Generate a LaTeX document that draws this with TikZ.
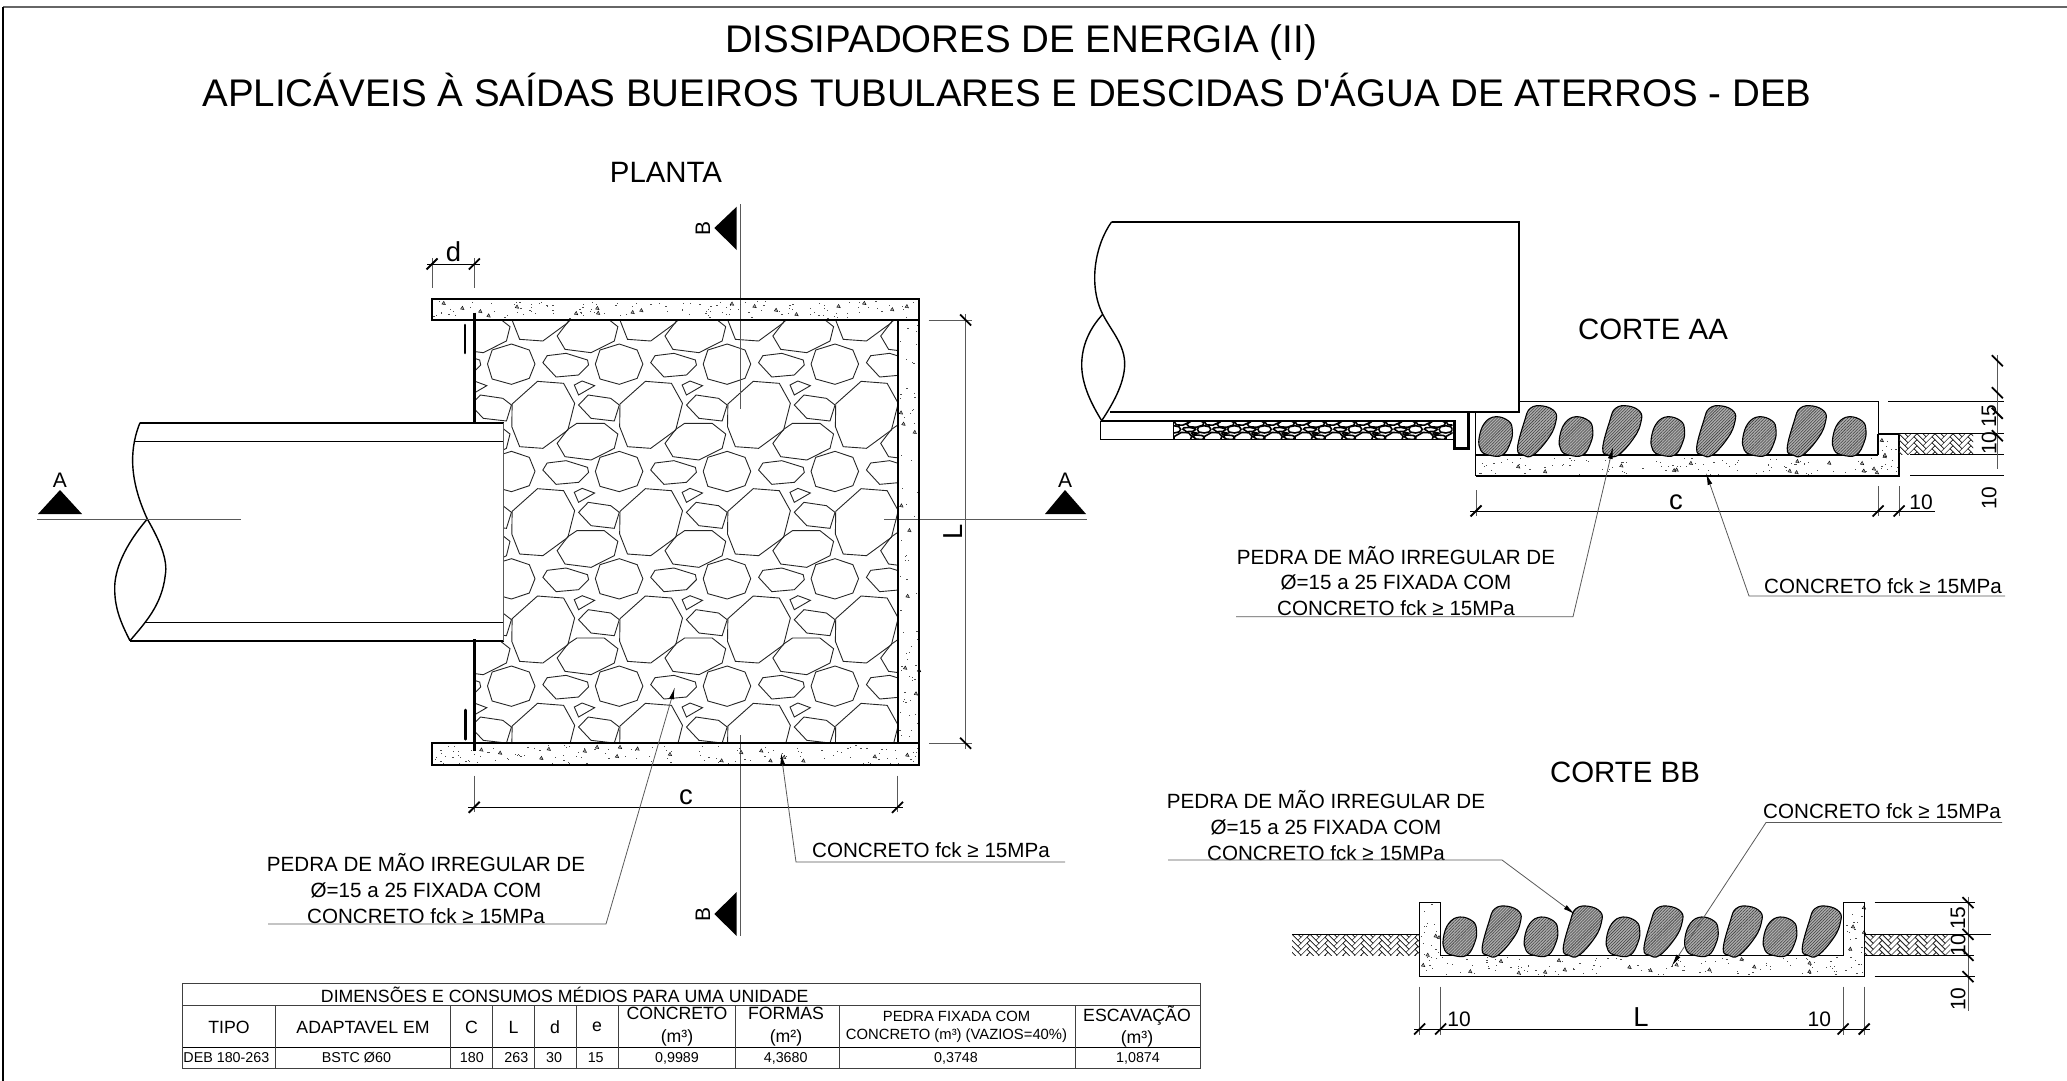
\documentclass[tikz,border=0pt]{standalone}
\usepackage{fontspec}
\setmainfont{Liberation Sans}
\newfontfamily\plainsans{Liberation Sans}
\usetikzlibrary{arrows.meta,patterns.meta}
\definecolor{dimgr}{gray}{0.35}
\definecolor{stonegr}{gray}{0.68}
\tikzset{
  thickl/.style={line width=1pt,black},
  medl/.style={line width=.7pt,black},
  thinl/.style={line width=.4pt,dimgr},
  stonel/.style={line width=.45pt,black!85},
  tickl/.style={line width=.9pt,black},
  leader/.style={line width=.4pt,dimgr,-{Latex[length=6pt,width=2.4pt,black]}},
  note/.style={font=\fontsize{10.3}{12.85}\selectfont,inner sep=0pt,align=center},
  heading/.style={font=\plainsans\fontsize{19.25}{23}\selectfont,inner sep=0pt},
  viewname/.style={font=\fontsize{14.7}{18}\selectfont,inner sep=0pt},
  dimbig/.style={font=\fontsize{13.7}{16}\selectfont,inner sep=0pt},
  dimsmall/.style={font=\fontsize{10.5}{12}\selectfont,inner sep=0pt},
  cuttext/.style={font=\fontsize{10.5}{12}\selectfont,inner sep=0pt},
  thead/.style={font=\fontsize{8.85}{11.2}\selectfont,inner sep=0pt,align=center},
  tsmall/.style={font=\fontsize{7.4}{9}\selectfont,inner sep=0pt,align=center},
  tdata/.style={font=\fontsize{7.15}{9}\selectfont,inner sep=0pt},
  rock/.style={line width=.55pt,black,preaction={fill=stonegr},
    pattern={Lines[angle=45,distance=1.05pt,line width=.28pt]},pattern color=black!75}
}
\newcommand{\stonetile}{%
  \draw (314,492)--(385,424)--(458,430)--(489,490)--(470,570)--(400,625)--(335,620)--(313,560)--cycle;
  \draw (440,610)--(470,568)--(495,550)--(572,550)--(610,582)--(600,625)--(535,660)--(462,650)--cycle;
  \draw (245,372)--(258,330)--(312,312)--(362,330)--(378,372)--(362,415)--(312,433)--(258,417)--cycle;
  \draw (400,368)--(412,347)--(465,340)--(525,360)--(528,375)--(500,405)--(437,411)--cycle;
  \draw (488,435)--(510,423)--(545,437)--(500,465)--cycle;
  \draw (500,495)--(527,465)--(590,475)--(614,495)--(600,543)--(535,535)--cycle;
}
\newcommand{\tickf}[2]{\draw[tickl] (#1-5.5,#2+5.5)--(#1+5.5,#2-5.5);}
\newcommand{\tickb}[2]{\draw[tickl] (#1-5.5,#2-5.5)--(#1+5.5,#2+5.5);}
\newcommand{\speckle}[7]{%
  \pgfmathsetseed{#7}
  \foreach \n in {1,...,#5}{
    \pgfmathsetmacro\sx{#1+rnd*(#3-#1)}
    \pgfmathsetmacro\sy{#2+rnd*(#4-#2)}
    \fill[black!70] (\sx,\sy) rectangle ++(1.2,.8);
  }
  \foreach \n in {1,...,#6}{
    \pgfmathsetmacro\sx{#1+rnd*(#3-#1)}
    \pgfmathsetmacro\sy{#2+3+rnd*(#4-#2-3)}
    \filldraw[line width=.2pt,draw=black,fill=black!35] (\sx,\sy)--++(3.5,.6)--++(-1.6,-3.4)--cycle;
  }
}
\newcommand{\soilhatch}[6]{%
  \begin{scope}
    \clip (#1,#2) rectangle (#3,#4);
    \begin{scope}[shift={(#1,#2)},x=1.5pt,y=-1.5pt,line width=.3pt,black!85]
      \foreach \i in {-1,...,#5}{\foreach \j in {-4,...,#6}{
        \draw[shift={(\i*6,\j*2)}] (0,0)--(3,3)--(2,4)--(-1,1)--cycle (5,1)--(6,2)--(3,5)--(2,4);
      }}
    \end{scope}
  \end{scope}
}
\newcommand{\stoneS}[2]{\draw[rock,shift={(#1,#2)}] plot[smooth cycle,tension=.7] coordinates {(-7,0)(7,0)(15,-13)(16.7,-25)(13,-34)(0,-38.3)(-11,-32)(-16.5,-17)(-15,-5)};}
\newcommand{\stoneT}[2]{\draw[rock,shift={(#1,#2)}] plot[smooth cycle,tension=.7] coordinates {(-13.3,0)(-3,0)(13,-18)(19.5,-33.3)(18.5,-43.3)(6.7,-49)(-6,-46.7)(-12,-33.3)(-18.8,-6.7)};}
\begin{document}
\begin{tikzpicture}[x=.5pt,y=-.5pt]
\useasboundingbox (0,0) rectangle (2067,1081);
% frame
\draw[line width=.9pt,black!60] (3,7)--(2067,7);
\draw[line width=.7pt,black] (3,7)--(3,1081);
% titles
\node[heading] (title1) at (1021,43) {DISSIPADORES DE ENERGIA (II)};
\node[heading] (title2) at (1007,90) {APLICÁVEIS À SAÍDAS BUEIROS TUBULARES E DESCIDAS D'ÁGUA DE ATERROS - DEB};
\node[viewname] (planta) at (666,172) {PLANTA};
\node[viewname] (corteaa) at (1653,329) {CORTE AA};
\node[viewname] (cortebb) at (1625,772) {CORTE BB};

% ---------- PLANTA ----------
\begin{scope}
  \clip (474,320) rectangle (897.5,743.3);
  \begin{scope}[shift={(400,240)},x=.17857pt,y=-.16667pt,stonel]
    \foreach \i in {-1,...,3}{\foreach \j in {-1,...,3}{
      \begin{scope}[shift={(\i*302,\j*322)}]\stonetile\end{scope}
    }}
  \end{scope}
\end{scope}
% pipe
\fill[white] (140,422.7) rectangle (503.6,640.7);
\draw[thickl] (140,422.7)--(503.6,422.7);
\draw[medl] (134.3,441.3)--(503.6,441.3);
\draw[medl] (145,622.3)--(503.6,622.3);
\draw[thickl] (130,640.7)--(503.6,640.7);
\draw[thinl] (503.6,422.7)--(503.6,640.7);
\draw[medl] (140,422.7) .. controls (131,445) and (127,475) .. (147.3,519)
   .. controls (160,541) and (168,560) .. (165.3,575) .. controls (162,605) and (145,623) .. (130,640.7);
\draw[medl] (147.3,519) .. controls (125,545) and (114,570) .. (114.7,590) .. controls (115,610) and (122,625) .. (130,640.7);
% center lines
\draw[thinl] (37,519)--(240.7,519);
\draw[thinl] (884,519)--(1087,519);
\draw[thinl] (740,204)--(740,409);
\draw[thinl] (740,735)--(740,936);
% slabs
\speckle{433}{301}{918}{318}{130}{18}{11}
\speckle{899}{321}{918}{742}{60}{9}{12}
\speckle{433}{745}{918}{764}{130}{18}{13}
\draw[thickl] (432,299.3) rectangle (919.3,320);
\draw[thickl] (431.8,743.3) rectangle (919.3,765.3);
\draw[thickl] (919.3,320)--(919.3,743.3);
\draw[line width=.9pt,black] (897.8,320)--(897.8,743.3);
\draw[line width=1.3pt] (474.3,312.7)--(474.3,423.3);
\draw[line width=1.3pt] (474.3,639.3)--(474.3,750.7);
\draw[line width=1.3pt,line cap=round] (465,325)--(465,353);
\draw[line width=1.3pt,line cap=round] (465.4,710)--(465.4,739.3);
% d dim
\draw[thinl] (432,258)--(432,288) (474.3,258)--(474.3,288);
\draw[line width=.4pt,black] (427,264)--(480,264);
\tickf{432}{264}\tickf{474.3}{264}
\node[dimbig] (dlabel) at (453.6,252) {d};
% c dim
\draw[thinl] (474.2,775.7)--(474.2,812) (897.5,775.7)--(897.5,812);
\draw[line width=.4pt,black] (468,807.3)--(903,807.3);
\tickf{474.2}{807.3}\tickf{897.5}{807.3}
\node[dimbig] (cplan) at (686,797) {c};
% L dim
\draw[thinl] (928.6,320)--(972,320) (929,743.3)--(972,743.3);
\draw[thinl] (965.6,314)--(965.6,749);
\tickb{965.6}{320}\tickb{965.6}{743.3}
\node[dimbig,rotate=90] (lplan) at (953,532) {L};
% cut marks
\fill (38,514)--(82,514)--(60,490)--cycle;
\fill (1045,514)--(1086,514)--(1065,490)--cycle;
\node[cuttext] (cutAl) at (60,480) {A};
\node[cuttext] (cutAr) at (1065,480) {A};
\fill (736.7,206.7)--(736.7,250)--(714.3,228)--cycle;
\fill (736.7,892)--(736.7,936)--(714.3,914)--cycle;
\node[cuttext,rotate=90] (cutBt) at (703,228) {B};
\node[cuttext,rotate=90] (cutBb) at (703,914) {B};
% notes planta
\node[note] (nplanp) at (426,888.5) {PEDRA DE MÃO IRREGULAR DE\\Ø=15 a 25 FIXADA COM\\CONCRETO fck ≥ 15MPa};
\draw[leader] (268,924)--(606,924)--(674.8,687.3);
\node[note] (nplanc) at (931,850) {CONCRETO fck ≥ 15MPa};
\draw[leader] (1065,862)--(796,862)--(781,752.7);

% ---------- CORTE AA ----------
\draw[thickl] (1111.7,221.7)--(1518.7,221.7)--(1518.7,411.7)--(1110,411.7);
\draw[medl] (1111.7,221.7) .. controls (1095,245) and (1088,285) .. (1102.7,314.3)
   .. controls (1112,332) and (1125,345) .. (1124.7,365) .. controls (1124,385) and (1112,405) .. (1101.7,420.7);
\draw[medl] (1102.7,314.3) .. controls (1090,328) and (1081.7,345) .. (1081.7,365) .. controls (1081.7,385) and (1092,405) .. (1101.7,420.7);
\begin{scope}
  \clip (1173.3,421) rectangle (1452.7,439.3);
  \begin{scope}[shift={(1173,407)},x=.05pt,y=-.03pt,line width=.8pt]
    \foreach \i in {-1,...,9}{\foreach \j in {-2,...,2}{
      \begin{scope}[shift={(\i*302,\j*322)}]\stonetile\end{scope}
    }}
  \end{scope}
\end{scope}
\draw[thickl] (1100.7,421)--(1454.7,421);
\draw[line width=.5pt,black] (1100.7,421)--(1100.7,439.3)--(1452.7,439.3);
\draw[line width=.5pt,black] (1173.3,421)--(1173.3,439.3);
\draw[line width=1.3pt] (1454.7,420)--(1454.7,448.3)--(1468.3,448.3)--(1468.3,410.7);
\speckle{1477}{457}{1898}{475}{100}{14}{21}
\speckle{1880}{435}{1898}{475}{14}{3}{22}
\draw[line width=.5pt,black] (1518.7,401.7)--(1878,401.7)--(1878,433.7);
\draw[medl] (1878,433.7)--(1878,455);
\draw[line width=.5pt,black] (1475.9,411.7)--(1475.9,476);
\draw[thickl] (1475.9,455)--(1878,455);
\draw[thickl] (1878,433.7)--(1899,433.7)--(1899,476)--(1475.9,476);
\stoneS{1495.6}{455}\stoneT{1536.3}{455}\stoneS{1576}{455}\stoneT{1621.5}{455}\stoneS{1667.8}{455}
\stoneT{1715.4}{455}\stoneS{1759.3}{455}\stoneT{1806}{455}\stoneS{1849.2}{455}
\soilhatch{1899}{433.7}{1973}{454.7}{5}{4}
\draw[line width=.5pt,black] (1899,433.7)--(2004,433.7);
\draw[line width=.5pt,black] (1888,401.7)--(2004,401.7);
\draw[line width=.5pt,black] (1910,454.7)--(2004,454.7);
\draw[line width=.5pt,black] (1910,475.7)--(2004,475.7);
\draw[line width=.5pt,dimgr] (1997.3,355)--(1997.3,469.3);
\tickb{1997.3}{360.7}\tickb{1997.3}{392.7}\tickb{1997.3}{413.3}\tickb{1997.3}{435.7}
\node[dimsmall,rotate=90] (aa15) at (1989,416) {15};
\node[dimsmall,rotate=90] (aa10a) at (1989,443) {10};
\node[dimsmall,rotate=90] (aa10b) at (1989,498) {10};
\draw[thinl] (1475.9,490)--(1475.9,516) (1878,486)--(1878,516) (1899,486)--(1899,516);
\draw[line width=.4pt,black] (1470,511)--(1935,511);
\tickf{1476}{511}\tickf{1878}{511}\tickf{1899}{511}
\node[dimbig] (caa) at (1676,502) {c};
\node[dimsmall] (aa10c) at (1921,502) {10};
\node[note] (naap) at (1396,581) {PEDRA DE MÃO IRREGULAR DE\\Ø=15 a 25 FIXADA COM\\CONCRETO fck ≥ 15MPa};
\draw[leader] (1236,616.7)--(1573,616.7)--(1613,447);
\node[note] (naac) at (1883,586) {CONCRETO fck ≥ 15MPa};
\draw[leader] (2005,596)--(1749,596)--(1706,473);

% ---------- CORTE BB ----------
\speckle{1421}{904}{1439}{975}{22}{4}{31}
\speckle{1845}{904}{1863}{975}{22}{4}{32}
\speckle{1441}{957}{1842}{975}{100}{14}{33}
\draw[line width=.5pt,black] (1419.7,902.7)--(1440.5,902.7)--(1440.5,955.3)--(1843,955.3)--(1843,902.7)--(1864.2,902.7)--(1864.2,976.7)--(1419.7,976.7)--cycle;
\draw[medl] (1440.5,955.3)--(1843,955.3);
\stoneS{1459.8}{955.3}\stoneT{1500.9}{955.3}\stoneS{1541}{955.3}\stoneT{1582}{955.3}\stoneS{1623}{955.3}
\stoneT{1662.7}{955.3}\stoneS{1701.4}{955.3}\stoneT{1742}{955.3}\stoneS{1780}{955.3}\stoneT{1821}{955.3}
\soilhatch{1292}{934.3}{1419.7}{955.3}{7}{4}
\soilhatch{1864.2}{934.3}{1950}{955.3}{5}{4}
\draw[line width=.5pt,black] (1291.8,934.3)--(1419.7,934.3);
\draw[line width=.5pt,black] (1864.2,934.3)--(1991,934.3);
\draw[line width=.5pt,black] (1864.2,955.3)--(1974,955.3);
\draw[line width=.5pt,black] (1874.6,902.7)--(1974.7,902.7);
\draw[line width=.5pt,black] (1874.6,976.7)--(1974.7,976.7);
\draw[thinl] (1968,896.7)--(1968,1010.7);
\tickb{1968}{902.7}\tickb{1968}{934.3}\tickb{1968}{955.3}\tickb{1968}{976.7}
\node[dimsmall,rotate=90] (bb15) at (1958,918) {15};
\node[dimsmall,rotate=90] (bb10a) at (1958,945) {10};
\node[dimsmall,rotate=90] (bb10b) at (1958,999) {10};
\draw[thinl] (1419.7,986.7)--(1419.7,1035) (1440.5,986.7)--(1440.5,1035) (1843,986.7)--(1843,1035) (1864.2,986.7)--(1864.2,1035);
\draw[line width=.4pt,black] (1414,1029)--(1870,1029);
\tickf{1419.7}{1029}\tickf{1440.5}{1029}\tickf{1843}{1029}\tickf{1864.2}{1029}
\node[dimsmall] (bb10c) at (1459,1019) {10};
\node[dimbig] (lbb) at (1641,1017) {L};
\node[dimsmall] (bb10d) at (1819.4,1019) {10};
\node[note] (nbbp) at (1326,825.5) {PEDRA DE MÃO IRREGULAR DE\\Ø=15 a 25 FIXADA COM\\CONCRETO fck ≥ 15MPa};
\draw[leader] (1168,860)--(1502,860)--(1575,914.3);
\node[note] (nbbc) at (1882,811) {CONCRETO fck ≥ 15MPa};
\draw[leader] (2002,822.5)--(1766,822.5)--(1671.7,966);

% ---------- TABLE ----------
\draw[line width=.5pt,black!75] (182.5,983.3) rectangle (1200,1068.3);
\draw[line width=.5pt,black!75] (182.5,1005)--(1200,1005);
\draw[line width=.5pt,black] (182.5,1047.3)--(1200,1047.3);
\foreach \vx in {275.4,450.7,492.5,534.3,576.4,618.2,735.7,839.3,1075.7}{
  \draw[line width=.5pt,black!75] (\vx,1005)--(\vx,1068.3);
}
\node[thead] (ttitle) at (564.7,994.5) {DIMENSÕES E CONSUMOS MÉDIOS PARA UMA UNIDADE};
\node[thead] (h1) at (229,1027) {TIPO};
\node[thead] (h2) at (363,1027) {ADAPTAVEL EM};
\node[thead] (h3) at (471.5,1027) {C};
\node[thead] (h4) at (513.5,1027) {L};
\node[thead] (h5) at (555,1027) {d};
\node[thead] (h6) at (597,1027) {e};
\node[thead] (h7) at (677,1026.5) {CONCRETO\\(m³)};
\node[thead] (h8) at (786,1026.5) {FORMAS\\(m²)};
\node[tsmall] (h9) at (956.5,1026.7) {PEDRA FIXADA COM\\CONCRETO (m³) (VAZIOS=40\%)};
\node[thead] (h10) at (1137,1026.5) {ESCAVAÇÃO\\(m³)};
\node[tdata] (d1) at (226.4,1058) {DEB 180-263};
\node[tdata] (d2) at (356.4,1058) {BSTC Ø60};
\node[tdata] (d3) at (471.8,1058) {180};
\node[tdata] (d4) at (516.4,1058) {263};
\node[tdata] (d5) at (554,1058) {30};
\node[tdata] (d6) at (595.7,1058) {15};
\node[tdata] (d7) at (677,1058) {0,9989};
\node[tdata] (d8) at (785.7,1058) {4,3680};
\node[tdata] (d9) at (956,1058) {0,3748};
\node[tdata] (d10) at (1138,1058) {1,0874};
\end{tikzpicture}
\end{document}
